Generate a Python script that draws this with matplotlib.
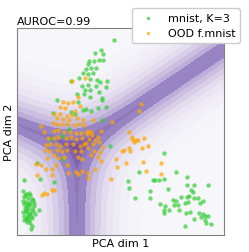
import numpy as np
import matplotlib
matplotlib.use("Agg")
import matplotlib.pyplot as plt
from matplotlib.colors import LinearSegmentedColormap

# in-distribution points (mnist, K=3), PCA dims
mnist_x = [29.0, 23.4, 25.2, 25.8, 21.6, 23.0, 24.6, 25.8, 21.2, 22.2, 20.8, 23.6, 22.8, 21.4, 19.8,
           18.5, 24.0, 25.0, 27.0, 21.8, 16.3, 21.2, 19.5, 23.6, 26.8, 22.0, 20.5, 24.6, 20.0, 25.4,
           18.1, 22.0, 25.6, 12.1, 18.3, 26.6, 24.2, 22.2, 20.8, 10.7, 16.2, 17.5, 19.9, 25.4, 15.7,
           13.6, 10.0, 27.8, 13.9, 5.9, 6.8, 11.1, 2.0,
           44.0, 36.6, 33.3, 40.9, 33.6, 39.9, 35.5, 40.0, 47.8, 51.0, 41.5, 42.7, 44.0, 45.3, 50.9,
           53.0, 52.3, 52.9, 57.3, 46.7, 47.6, 49.1, 51.0, 51.6, 53.0, 54.4, 51.3, 55.9, 55.0, 42.9,
           44.3, 47.1, 48.3, 50.5, 45.7, 48.5, 44.1, 44.1, 51.8, 50.8, 54.5, 55.8, 56.5, 57.3, 55.3,
           53.1, 56.3, 56.6, 58.1, 50.5,
           1.8, 2.8, 3.6, 4.0, 2.2, 3.2, 4.4, 1.8, 2.8, 3.8, 4.8, 2.0, 3.0, 4.0, 5.0, 2.4, 3.4, 4.4,
           1.8, 2.8, 3.8, 4.8, 2.2, 3.2, 4.2, 2.6, 3.6, 4.6, 3.0, 4.0, 4.4, 4.2, 6.6, 5.4, 2.0, 5.0,
           2.4, 3.4, 2.6, 3.6, 3.0]
mnist_y = [58.1, 54.3, 55.1, 53.9, 51.9, 51.9, 52.1, 52.3, 50.9, 49.9, 49.5, 49.7, 48.3, 47.9, 48.2,
           46.7, 46.3, 45.5, 45.9, 46.5, 45.9, 44.7, 44.5, 44.5, 44.1, 43.1, 43.2, 42.7, 42.2, 40.9,
           42.0, 41.3, 40.2, 40.2, 39.7, 38.3, 38.0, 37.0, 37.5, 36.4, 36.6, 36.2, 37.3, 34.2, 31.6,
           29.4, 28.7, 26.6, 22.8, 21.4, 16.6, 15.8, 16.4,
           24.4, 18.8, 16.2, 16.4, 14.0, 13.0, 11.0, 11.0, 18.8, 17.4, 16.4, 16.4, 16.8, 13.8, 14.8,
           15.0, 13.4, 12.8, 15.0, 10.4, 10.1, 11.2, 11.4, 11.6, 11.0, 11.0, 10.0, 10.2, 9.7, 9.3,
           8.6, 8.9, 9.0, 9.6, 7.6, 7.6, 7.6, 6.6, 7.0, 6.6, 6.6, 6.4, 5.8, 5.8, 5.4,
           4.8, 4.4, 3.6, 3.4, 2.8,
           13.2, 12.2, 12.6, 11.8, 11.2, 11.0, 10.8, 10.2, 10.0, 9.8, 10.4, 9.2, 8.8, 9.0, 8.6, 8.0, 7.8, 7.8,
           7.0, 6.8, 6.6, 7.2, 5.8, 5.6, 5.8, 4.8, 4.6, 5.0, 3.8, 3.6, 2.6, 1.8, 7.4, 6.4, 4.4, 9.6,
           12.0, 9.4, 7.6, 6.2, 5.2]

# out-of-distribution points (fashion mnist)
ood_x = [16.5, 20.5, 18.2,
         13.7, 15.2, 16.7, 18.9, 12.8, 14.3, 17.5, 11.2, 12.8, 15.0, 16.5, 12.0, 13.8, 15.5, 18.0,
         19.8, 7.2, 10.8, 12.0, 13.4, 15.0, 17.0, 18.6, 20.2, 8.0, 11.0, 12.4, 14.0, 15.8, 17.6,
         19.2, 21.0, 9.4, 11.2, 12.4, 14.8, 16.2, 17.8, 19.6, 8.8, 9.8, 11.8, 13.0, 14.6, 16.8,
         18.8, 20.0, 8.4, 10.0, 12.0, 13.6, 15.0, 17.4, 19.2, 7.2, 11.0, 12.2, 14.0, 18.2, 19.6,
         11.6, 15.0, 9.0,
         37.1, 36.6, 22.8, 28.4, 25.2, 21.4, 22.2, 21.0, 22.6, 24.2, 21.6, 23.4, 20.6, 22.8, 24.6,
         25.4, 21.2, 23.0, 25.0, 22.2, 24.4, 25.2, 29.8, 32.6, 33.6, 34.4, 35.6, 36.4, 38.2, 39.2,
         33.6, 37.4, 32.2, 34.0, 31.4, 37.8, 34.6, 35.2,
         6.0, 10.6, 10.4, 11.0, 8.0, 7.6, 9.0, 15.2, 17.8, 18.4, 19.6, 8.6, 10.4, 5.8,
         21.2, 21.4, 23.4, 29.9, 28.2, 38.8, 43.3, 43.3]
ood_y = [46.0, 46.9, 41.2,
         39.6, 39.4, 39.6, 38.4, 38.2, 38.0, 37.0, 36.2, 36.0, 35.4, 35.8, 34.8, 34.6, 34.4, 35.0,
         34.4, 32.6, 33.4, 33.0, 33.0, 33.2, 32.8, 33.0, 32.8, 30.8, 31.0, 31.2, 30.8, 30.6, 30.4,
         30.4, 30.6, 29.0, 28.8, 29.2, 28.8, 29.2, 28.6, 28.8, 26.8, 27.0, 27.0, 26.5, 27.0, 27.2,
         26.4, 27.0, 25.4, 25.2, 25.4, 25.0, 25.4, 25.0, 25.0, 21.0, 23.8, 23.0, 23.2, 23.4, 22.8,
         21.0, 21.0, 23.0,
         39.2, 37.0, 34.2, 33.6, 31.0, 31.0, 30.6, 30.0, 29.8, 29.2, 28.6, 28.2, 27.4, 27.2, 27.8,
         26.2, 26.0, 25.0, 24.8, 24.0, 23.2, 22.2, 22.8, 21.4, 30.8, 29.2, 28.2, 28.4, 28.8, 26.6,
         26.0, 26.0, 25.4, 25.2, 25.0, 21.8, 28.6, 27.6,
         18.0, 17.8, 13.4, 13.4, 12.4, 11.8, 12.2, 18.6, 18.8, 18.2, 19.2, 19.8, 19.8, 21.2,
         16.9, 18.6, 19.6, 20.4, 16.8, 19.2, 21.4, 18.2]

# class centres used for the uncertainty background
centre_x = [11.8, -5.3, 41.3]
centre_y = [53.7, 9.7, 9.7]
temperature = 420.0

xlim = (0, 62)
ylim = (0, 61.7)

fig = plt.figure(figsize=(2.49, 2.53), dpi=100)
ax = fig.add_axes([0.068, 0.067, 0.831, 0.818])

gx, gy = np.meshgrid(np.linspace(*xlim, 300), np.linspace(*ylim, 300))
logits = np.stack([-((gx - cx) ** 2 + (gy - cy) ** 2) / temperature
                   for cx, cy in zip(centre_x, centre_y)])
logits -= logits.max(axis=0)
p = np.exp(logits)
p /= p.sum(axis=0)
uncert = 1 - p.max(axis=0)

cmap = LinearSegmentedColormap.from_list(
    "unc", [(0.0, "#f8f8fb"), (0.2, "#e6e1f0"), (0.55, "#b7a9d6"),
            (0.63, "#9a85c4"), (0.75, "#9580c1"), (1.0, "#70489e")])
levels = [0, 0.015, 0.035, 0.06, 0.09, 0.13, 0.18, 0.24, 0.31, 0.38, 0.5, 0.56, 0.62, 0.667]
ax.contourf(gx, gy, uncert, levels=levels, cmap=cmap, vmin=0, vmax=2 / 3)

ax.scatter(mnist_x, mnist_y, s=10, color="limegreen", alpha=0.7, lw=0, label="mnist, K=3")
ax.scatter(ood_x, ood_y, s=10, color="orange", alpha=0.7, lw=0, label="OOD f.mnist")

ax.set_xlim(*xlim)
ax.set_ylim(*ylim)
ax.set_xticks([])
ax.set_yticks([])
for sp in ax.spines.values():
    sp.set_color("#808080")
ax.set_xlabel("PCA dim 1", fontsize=8, labelpad=2)
ax.set_ylabel("PCA dim 2", fontsize=8, labelpad=2)
ax.set_title("AUROC=0.99", loc="left", fontsize=8, pad=3)

fig.legend(loc="upper right", bbox_to_anchor=(0.985, 0.985), fontsize=8,
           markerscale=0.8, framealpha=1.0)

fig.savefig("out.png", dpi=100)
